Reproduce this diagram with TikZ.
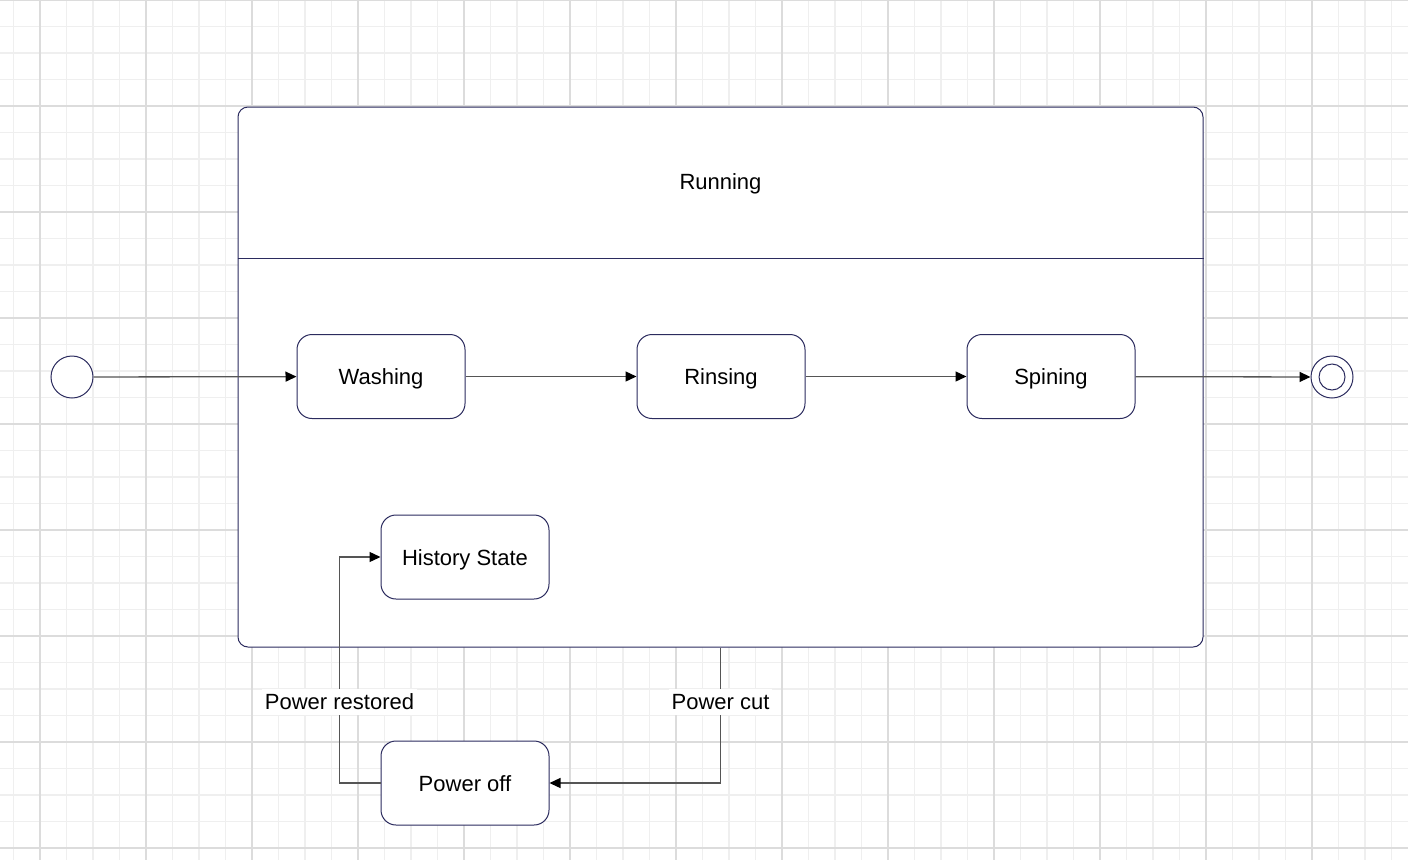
\documentclass[tikz,border=0pt]{standalone}
\usepackage{fontspec}
\setmainfont{Liberation Sans}
\usetikzlibrary{arrows.meta,calc}
\definecolor{bordercol}{HTML}{2B2B5E}
\definecolor{linecol}{HTML}{555555}
\definecolor{minorgrid}{HTML}{EFEFEF}
\definecolor{majorgrid}{HTML}{DCDCDC}
\begin{document}
\begin{tikzpicture}[x=1pt,y=-1pt,
  every node/.style={font=\fontsize{22}{26}\selectfont},
  txt/.style={text height=18pt,text depth=2pt},
  statebox/.style={txt,draw=bordercol,line width=1pt,rounded corners=15pt,fill=white,minimum width=168pt,minimum height=84pt,inner sep=0pt},
  arr/.style={draw=linecol,line width=1.3pt,-{Triangle[length=11pt,width=10pt,fill=black,color=black]}},
  lbl/.style={txt,fill=white,inner sep=3pt},
  pseudo/.style={circle,draw=bordercol,line width=1pt,fill=white,minimum size=42pt,inner sep=0pt}
]
\useasboundingbox (0,0) rectangle (1408,860);
\fill[white] (0,0) rectangle (1408,860);
% grid
\foreach \i in {-1,...,52} {
  \draw[minorgrid,line width=1.2pt] ({40+26.5*\i},0) -- ({40+26.5*\i},860);
}
\foreach \i in {0,...,33} {
  \draw[minorgrid,line width=1.2pt] (0,{26.5*\i}) -- (1408,{26.5*\i});
}
\foreach \i in {0,...,13} {
  \draw[majorgrid,line width=1.4pt] ({40+106*\i},0) -- ({40+106*\i},860);
}
\foreach \i in {0,...,8} {
  \draw[majorgrid,line width=1.4pt] (0,{106*\i}) -- (1408,{106*\i});
}
% composite state
\node[draw=bordercol,line width=1pt,rounded corners=10pt,fill=white,minimum width=965pt,minimum height=540pt,inner sep=0pt] (running) at (720.5,377) {};
\draw[bordercol,line width=1pt] (running.west |- 0,258) -- (running.east |- 0,258);
\node[txt] (runlabel) at (720.5,181) {Running};
% states
\node[statebox] (washing) at (381,376.5) {Washing};
\node[statebox] (rinsing) at (721,376.5) {Rinsing};
\node[statebox] (spining) at (1051,376.5) {Spining};
\node[statebox] (history) at (465,557) {History State};
\node[statebox] (poweroff) at (465,783) {Power off};
% pseudo states
\node[pseudo] (init) at (72,377) {};
\node[pseudo] (final) at (1332,377) {};
\node[circle,draw=bordercol,line width=1pt,minimum size=26pt,inner sep=0pt] (finalin) at (final.center) {};
% transitions
\draw[arr] (init) -- (washing);
\draw[arr] (washing) -- (rinsing);
\draw[arr] (rinsing) -- (spining);
\draw[arr] (spining) -- (final);
\draw[arr] (running.south) |- node[lbl,pos=0.2] {Power cut} (poweroff.east);
\draw[arr] (poweroff.west) -- ++(-41,0) |- node[lbl,pos=0.18] {Power restored} (history.west);
\end{tikzpicture}
\end{document}
